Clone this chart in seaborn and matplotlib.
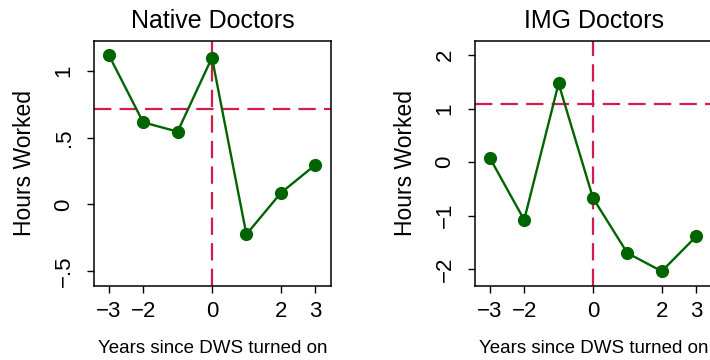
import matplotlib
matplotlib.use("Agg")
import matplotlib.pyplot as plt
import seaborn as sns
import pandas as pd

# Event-study estimates of hours worked, by years since DWS turned on
years = [-3, -2, -1, 0, 1, 2, 3]
native_hours = [1.12, 0.615, 0.545, 1.10, -0.225, 0.085, 0.295]
img_hours = [0.08, -1.08, 1.47, -0.67, -1.70, -2.04, -1.39]

native_ref = 0.715
img_ref = 1.09

xticks = [-3, -2, 0, 2, 3]
xtick_labels = ["\u22123", "\u22122", "0", "2", "3"]
native_yticks = [-0.5, 0, 0.5, 1]
native_ytick_labels = ["\u2212.5", "0", ".5", "1"]
img_yticks = [-2, -1, 0, 1, 2]
img_ytick_labels = ["\u22122", "\u22121", "0", "1", "2"]

titles = ["Native Doctors", "IMG Doctors"]
xlabel = "Years since DWS turned on"
ylabel = "Hours Worked"

sns.set_style("ticks")
plt.rcParams["font.family"] = ["Liberation Sans", "DejaVu Sans"]
plt.rcParams.update({
    "text.color": "black",
    "axes.labelcolor": "black",
    "xtick.color": "black",
    "ytick.color": "black",
    "axes.edgecolor": "black",
})

line_color = "#006400"
ref_color = "#d41c4c"

fig = plt.figure(figsize=(7.10, 3.60), dpi=100)
W, H = 710, 360
ax_w, ax_top, ax_bot = 237, 40.7, 285.7
axes = [
    fig.add_axes([94 / W, (H - ax_bot) / H, ax_w / W, (ax_bot - ax_top) / H]),
    fig.add_axes([475 / W, (H - ax_bot) / H, (ax_w + 3.4) / W, (ax_bot - ax_top) / H]),
]

panels = [
    (native_hours, native_ref, native_yticks, native_ytick_labels, (-0.61, 1.227), 3.46),
    (img_hours, img_ref, img_yticks, img_ytick_labels, (-2.31, 2.27), 3.56),
]

for ax, title, (vals, ref, yt, ytl, ylim, xmax) in zip(axes, titles, panels):
    df = pd.DataFrame({"year": years, "hours": vals})
    ax.axvline(0, color=ref_color, lw=1.6, dashes=(7.8, 3.7), zorder=1)
    ax.axhline(ref, color=ref_color, lw=1.6, dashes=(7.8, 3.7), zorder=1)
    sns.lineplot(data=df, x="year", y="hours", ax=ax, color=line_color,
                 marker="o", markersize=9.5, markeredgewidth=0,
                 linewidth=1.7, zorder=3)
    ax.set_xlim(-3.43, xmax)
    ax.set_ylim(*ylim)
    ax.set_xticks(xticks)
    ax.set_xticklabels(xtick_labels, fontsize=16)
    ax.set_yticks(yt)
    ax.set_yticklabels(ytl, fontsize=16, rotation=90, va="center")
    ax.tick_params(axis="both", length=5, width=1.0, color="black")
    ax.tick_params(axis="x", pad=6)
    ax.tick_params(axis="y", pad=9)
    for s in ax.spines.values():
        s.set_linewidth(1.1)
        s.set_color("black")
    ax.set_title(title, fontsize=18, pad=9)
    ax.set_xlabel(xlabel, fontsize=13.5, va="center")
    ax.xaxis.set_label_coords(0.5, -0.258)
    ax.set_ylabel(ylabel, fontsize=16.5, va="center")
    ax.yaxis.set_label_coords(-69 / ax.bbox.width * fig.dpi / 100, 0.5)

# keep label/title centres aligned with the nominal panel width on the right
axes[1].title.set_position((ax_w / 2 / (ax_w + 3.4), 1.0))
axes[1].xaxis.set_label_coords(ax_w / 2 / (ax_w + 3.4), -0.258)

fig.savefig("out.png", dpi=100)
